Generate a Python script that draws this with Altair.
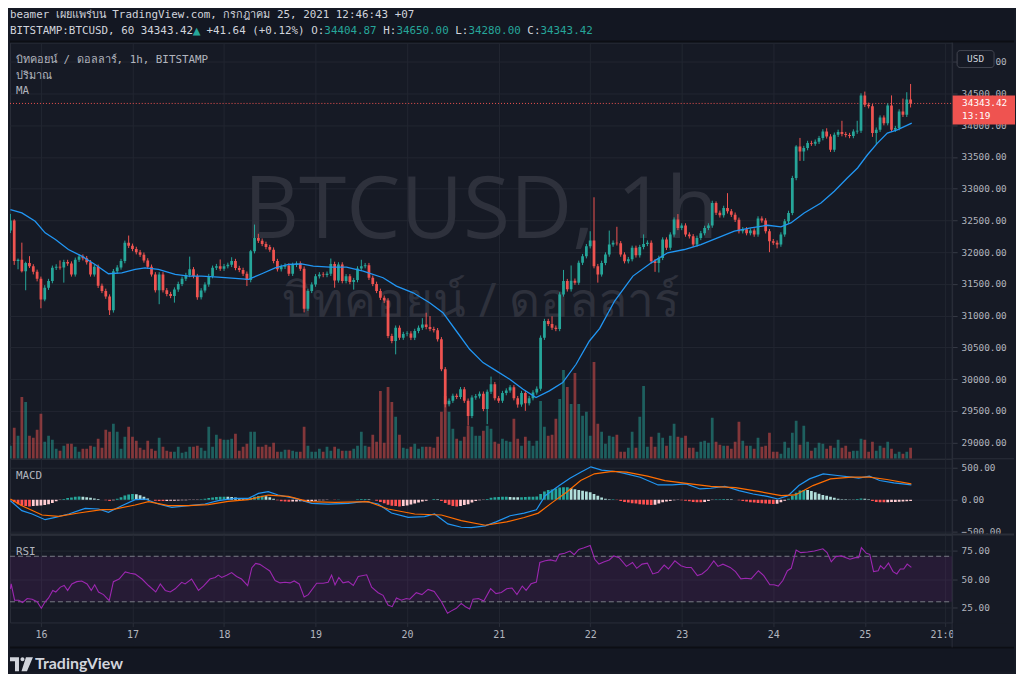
import altair as alt
import pandas as pd

# ---------------- data ----------------
# hourly candles, index 0 = Jul 15 16:00 ... 236 = Jul 25 12:00
closes = [
    32498, 31860, 31880, 31700, 31830, 31780, 31690, 31580, 31256, 31440,
    31545, 31754, 31770, 31760, 31845, 31820, 31650, 31880, 31930, 31905,
    31840, 31650, 31770, 31470, 31390, 31300, 31083, 31700, 31760, 31860,
    32147, 32100, 32050, 32000, 31960, 31870, 31770, 31650, 31400, 31650,
    31400, 31340, 31310, 31410, 31500, 31580, 31640, 31730, 31623, 31290,
    31398, 31490, 31623, 31754, 31780, 31740, 31780, 31800, 31860, 31750,
    31720, 31660, 31560, 32016, 32225, 32180, 32130, 32080, 32040, 31860,
    31730, 31770, 31790, 31660, 31800, 31820, 31740, 31110, 31390, 31490,
    31620, 31650, 31640, 31660, 31815, 31555, 31806, 31544, 31620, 31530,
    31560, 31743, 31780, 31795, 31597, 31500, 31390, 31282, 31240, 30680,
    30600, 30810, 30653, 30710, 30720, 30650, 30758, 30810, 30860, 30820,
    30790, 30770, 30627, 30155, 29605, 29660, 29736, 29720, 29840, 29660,
    29420, 29710, 29730, 29770, 29530, 29800, 29920, 29700, 29660, 29780,
    29820, 29870, 29700, 29600, 29780, 29620, 29700, 29790, 29850, 30653,
    30915, 30870, 30810, 30790, 31334, 31544, 31414, 31550, 31520, 31832,
    31937, 32094, 32185, 31780, 31650, 31830, 31963, 32120, 32150, 32140,
    31963, 31858, 31890, 32068, 31950, 32080, 32130, 32150, 31858, 31830,
    31910, 32199, 32068, 32278, 32513, 32382, 32420, 32278, 32250, 32120,
    32225, 32300, 32382, 32420, 32775, 32620, 32580, 32697, 32644, 32590,
    32510, 32330, 32360, 32300, 32340, 32278, 32530, 32500, 32330, 32173,
    32150, 32120, 32278, 32487, 32618, 33168, 33666, 33588, 33640, 33720,
    33710, 33740, 33797, 33902, 33824, 33614, 33850, 33895, 33860, 33845,
    33830, 33900, 33914, 34468, 34321, 34300, 33876, 33930, 34120, 34033,
    34311, 33930, 33955, 34216, 34164, 34404.87, 34343.42,
]
first_open = 32341

upper_wick = [
    105, 20, 20, 270, 20, 107, 30, 35, 35, 40,
    35, 35, 40, 100, 35, 35, 35, 35, 40, 35,
    35, 35, 35, 35, 35, 35, 35, 35, 35, 35,
    35, 115, 35, 35, 35, 35, 35, 35, 35, 35,
    35, 35, 35, 35, 35, 35, 35, 200, 35, 35,
    35, 35, 35, 35, 35, 105, 35, 35, 60, 35,
    35, 35, 35, 20, 210, 65, 35, 35, 35, 35,
    35, 35, 35, 35, 35, 35, 35, 35, 35, 35,
    35, 35, 35, 35, 85, 35, 35, 35, 35, 35,
    35, 35, 100, 35, 35, 35, 35, 35, 35, 35,
    35, 35, 35, 35, 35, 35, 35, 35, 100, 186,
    174, 35, 35, 35, 35, 35, 35, 35, 35, 35,
    35, 35, 35, 35, 35, 35, 120, 35, 35, 35,
    35, 35, 35, 35, 35, 35, 35, 35, 35, 35,
    35, 35, 120, 35, 35, 176, 35, 240, 35, 35,
    35, 35, 145, 680, 35, 35, 35, 220, 35, 250,
    35, 35, 35, 35, 35, 35, 150, 35, 35, 35,
    35, 35, 35, 35, 35, 87, 35, 35, 35, 35,
    35, 35, 35, 35, 35, 25, 35, 35, 233, 35,
    35, 35, 35, 35, 35, 35, 35, 35, 35, 35,
    35, 35, 35, 35, 35, 35, 20, 134, 35, 35,
    35, 35, 35, 35, 50, 35, 35, 35, 175, 35,
    35, 35, 156, 35, 62, 35, 35, 35, 35, 35,
    35, 159, 35, 35, 204, 115, 245.13,
]
lower_wick = [
    40, 60, 130, 20, 300, 30, 40, 40, 140, 30,
    35, 35, 35, 35, 240, 35, 35, 35, 35, 35,
    35, 35, 35, 35, 35, 35, 73, 35, 35, 35,
    35, 35, 35, 35, 35, 35, 35, 35, 35, 220,
    35, 35, 35, 105, 35, 35, 35, 35, 35, 40,
    35, 35, 35, 35, 35, 35, 35, 35, 35, 35,
    35, 35, 94, 35, 35, 35, 35, 35, 35, 35,
    35, 35, 35, 35, 35, 35, 35, 60, 35, 35,
    35, 35, 35, 35, 35, 115, 35, 35, 35, 35,
    120, 35, 35, 35, 35, 35, 35, 35, 40, 35,
    35, 210, 35, 35, 35, 35, 35, 35, 35, 35,
    35, 35, 35, 30, 50, 35, 35, 35, 35, 35,
    150, 35, 35, 35, 35, 240, 35, 35, 35, 35,
    35, 35, 35, 50, 35, 120, 35, 35, 35, 35,
    35, 35, 35, 35, 35, 35, 35, 35, 35, 35,
    35, 35, 35, 35, 130, 35, 35, 35, 35, 35,
    35, 35, 35, 35, 35, 35, 35, 35, 35, 140,
    150, 35, 35, 35, 35, 35, 35, 35, 35, 35,
    35, 35, 35, 35, 35, 35, 35, 35, 35, 35,
    35, 35, 35, 35, 35, 35, 35, 35, 35, 173,
    35, 60, 35, 35, 35, 35, 35, 150, 150, 35,
    35, 35, 35, 35, 35, 35, 35, 35, 35, 35,
    35, 35, 35, 35, 35, 35, 60, 176, 35, 35,
    35, 35, 35, 35, 35, 35, 63.42,
]
volume = [
    13, 31, 23, 62, 57, 23, 21, 29, 45, 17,
    23, 19, 10, 8, 13, 15, 15, 12, 7, 10,
    10, 13, 12, 20, 11, 29, 27, 35, 27, 10,
    22, 32, 22, 18, 11, 9, 18, 10, 8, 21,
    12, 8, 7, 7, 12, 6, 7, 12, 12, 13,
    11, 8, 32, 12, 24, 20, 19, 19, 20, 25,
    8, 12, 15, 27, 27, 12, 12, 14, 12, 16,
    7, 7, 9, 9, 8, 7, 7, 32, 13, 7,
    7, 10, 7, 12, 8, 12, 10, 8, 8, 8,
    10, 13, 27, 13, 12, 24, 17, 68, 16, 72,
    57, 42, 24, 11, 10, 12, 15, 10, 12, 12,
    12, 11, 22, 47, 63, 47, 30, 20, 18, 22,
    33, 32, 23, 23, 28, 33, 30, 17, 15, 20,
    18, 17, 40, 20, 13, 22, 18, 13, 18, 58,
    32, 23, 24, 40, 60, 89, 72, 55, 86, 55,
    43, 47, 23, 97, 35, 27, 15, 23, 22, 24,
    7, 7, 11, 27, 11, 42, 73, 12, 22, 12,
    26, 21, 13, 23, 35, 22, 21, 23, 11, 11,
    7, 17, 18, 16, 41, 17, 14, 13, 13, 10,
    17, 37, 18, 13, 13, 10, 21, 12, 13, 26,
    7, 7, 5, 17, 11, 26, 38, 14, 33, 17,
    8, 11, 16, 15, 10, 13, 11, 19, 11, 13,
    7, 8, 8, 20, 19, 7, 17, 8, 13, 11,
    17, 10, 5, 7, 5, 7, 11,
]
macd_hist = [
    -10, -40, -70, -95, -100, -105, -100, -95, -90, -85,
    -70, -50, -25, -5, 10, 25, 35, 45, 50, 48,
    40, 30, 20, 10, 0, -10, -20, -10, 15, 40,
    65, 80, 88, 85, 70, 45, 20, 0, -15, -20,
    -22, -20, -18, -15, -12, -10, -8, -5, -5, -3,
    5, 15, 25, 35, 42, 45, 47, 45, 42, 35,
    25, 18, 10, 25, 45, 58, 60, 55, 40, 15,
    -10, -25, -30, -32, -30, -28, -25, -30, -28, -22,
    -15, -10, -8, -5, 0, -3, 2, -2, 0, -2,
    0, 5, 10, 12, 8, 0, -15, -35, -55, -80,
    -95, -100, -105, -100, -90, -75, -60, -45, -30, -15,
    0, 10, 5, -20, -50, -80, -100, -105, -100, -85,
    -70, -45, -20, -10, -5, 10, 30, 40, 42, 45,
    46, 44, 40, 38, 40, 42, 45, 48, 50, 90,
    130, 150, 160, 175, 190, 195, 195, 180, 165, 150,
    140, 130, 115, 90, 60, 35, 15, 5, 5, -5,
    -20, -35, -45, -55, -60, -70, -75, -80, -84, -80,
    -60, -40, -30, -20, -10, -5, -10, -15, -25, -35,
    -40, -42, -35, -20, -5, 5, 8, 10, 8, 5,
    0, -10, -20, -30, -40, -45, -50, -55, -60, -65,
    -68, -65, -40, -15, 15, 60, 110, 145, 153, 150,
    135, 115, 95, 75, 60, 45, 30, 15, 8, 5,
    3, 2, 10, 18, 15, 5, -20, -35, -40, -42,
    -40, -38, -35, -32, -28, -25, -20,
]
# (candle index, value) points
ma_points = [
    (0, 32671), (3.0, 32618), (6.5, 32487), (9.1, 32304), (11.8, 32199), (15.2, 32042),
    (18.7, 31937), (22.2, 31806), (25.7, 31660), (29.2, 31675), (32.7, 31728), (35.3, 31754),
    (38.8, 31728), (43.2, 31649), (46.7, 31623), (50.1, 31623), (54.5, 31607), (58.9, 31586),
    (62.4, 31570), (65.9, 31660), (69.4, 31754), (72.9, 31806), (76.3, 31817), (79.4, 31780),
    (83.8, 31764), (88.1, 31764), (92.5, 31701), (97.7, 31597), (101.2, 31465), (105.6, 31360),
    (109.9, 31203), (113.4, 31046), (116.9, 30758), (120.4, 30470), (123.9, 30260), (127.4, 30129),
    (130.9, 29998), (134.4, 29841), (137.8, 29710), (141.3, 29815), (144.8, 29946), (148.3, 30234),
    (151.8, 30601), (154.5, 30800), (158.4, 31230), (163.2, 31623), (168.0, 31832), (172.3, 31990),
    (176.7, 32042), (181.0, 32120), (185.4, 32225), (189.8, 32330), (194.1, 32382), (198.5, 32424),
    (202.0, 32398), (204.6, 32461), (208.1, 32618), (212.5, 32775), (216.0, 32959), (219.4, 33168),
    (222.1, 33326), (224.7, 33535), (227.3, 33719), (229.9, 33876), (232.5, 33928), (236.3, 34033),
]
macd_points = [
    (0, -16), (3.0, -172), (5.7, -224), (9.1, -313), (11.8, -276), (15.3, -224), (19.6, -135),
    (23.1, -146), (25.7, -198), (29.2, -94), (32.7, 0), (35.3, 10), (38.8, -68), (42.3, -120),
    (46.7, -94), (51.0, -68), (54.5, -16), (58.9, 21), (62.4, 21), (65.0, 99), (67.6, 125),
    (70.2, 73), (74.6, 21), (79.0, -57), (83.3, -68), (88.6, -57), (92.9, -26), (96.4, -68),
    (99.9, -208), (104.3, -276), (108.6, -266), (111.2, -224), (114.7, -380), (118.2, -432),
    (120.8, -437), (124.5, -410), (127.3, -347), (131.0, -252), (134.7, -210), (137.9, -158),
    (140.2, 63), (143.9, 221), (146.7, 337), (149.5, 431), (152.2, 515), (155.0, 463),
    (158.7, 442), (161.5, 405), (165.1, 352), (169.8, 231), (173.5, 231), (177.1, 247),
    (180.8, 168), (183.6, 179), (187.3, 210), (191.0, 142), (194.7, 89), (198.4, 53),
    (201.2, 11), (203.9, 63), (206.7, 221), (209.5, 326), (213.1, 405), (216.8, 379),
    (220.5, 352), (222.4, 337), (225.2, 368), (227.9, 300), (231.6, 263), (236.2, 231),
]
signal_points = [
    (0, 10), (3.0, -94), (8.3, -240), (12.6, -260), (17.9, -208), (24.0, -156), (26.6, -156),
    (32.7, -83), (36.2, -31), (41.4, -94), (46.7, -94), (51.9, -78), (57.1, -26), (62.4, 0),
    (67.6, 73), (72.9, 52), (78.1, -31), (85.1, -42), (93.8, -31), (99.0, -146), (106.0, -224),
    (113.0, -240), (118.2, -328), (124.5, -400), (130.1, -347), (134.7, -279), (138.4, -210),
    (142.1, -42), (145.8, 116), (149.5, 300), (153.1, 405), (157.8, 442), (161.5, 431),
    (167.0, 368), (171.6, 300), (176.2, 263), (183.6, 210), (190.1, 189), (196.5, 126),
    (202.1, 63), (205.8, 74), (210.4, 221), (215.0, 326), (220.5, 352), (225.2, 352),
    (229.8, 316), (236.2, 247),
]
rsi_points = [
    (0, 41.4), (0.2, 45.7), (1.1, 31.4), (2.2, 31.4), (3.2, 29.4), (4.4, 32.9), (5.7, 32.3),
    (7.0, 30.0), (8.1, 24.3), (9.1, 30.0), (10.0, 33.4), (11.1, 40.0), (11.9, 38.6), (13.1, 42.9),
    (14.1, 44.3), (15.0, 40.0), (16.1, 45.7), (17.4, 47.7), (18.7, 48.3), (20.1, 45.7), (21.2, 40.0),
    (22.1, 44.9), (23.1, 38.6), (24.4, 36.3), (25.9, 31.1), (27.0, 47.7), (28.5, 50.0), (30.1, 56.3),
    (31.4, 55.1), (32.7, 54.3), (34.5, 50.0), (36.2, 44.3), (38.1, 38.6), (39.3, 45.7), (40.6, 40.0),
    (41.9, 38.6), (43.2, 41.4), (44.9, 47.1), (45.8, 45.7), (47.5, 50.0), (49.3, 40.0), (50.6, 43.7),
    (52.3, 50.0), (53.7, 51.4), (54.5, 53.4), (55.4, 51.4), (56.7, 53.4), (58.0, 55.7), (59.3, 52.3),
    (60.6, 50.0), (62.2, 44.3), (63.3, 60.0), (64.3, 63.7), (65.4, 62.9), (66.7, 60.0), (68.0, 57.1),
    (69.4, 48.6), (70.7, 46.6), (72.0, 47.1), (73.3, 46.6), (74.4, 48.3), (75.7, 45.7), (77.0, 34.3),
    (78.1, 36.3), (80.3, 46.3), (82.0, 46.3), (83.3, 47.1), (84.2, 53.4), (85.1, 44.9), (86.1, 51.4),
    (87.2, 46.6), (88.6, 47.7), (89.9, 44.3), (91.2, 52.3), (93.4, 53.7), (94.7, 42.9), (96.4, 38.0),
    (97.7, 35.7), (99.0, 27.1), (100.1, 25.7), (101.2, 33.4), (102.5, 31.4), (103.8, 32.9),
    (104.7, 32.3), (106.4, 38.0), (107.9, 36.3), (109.5, 40.9), (111.1, 39.1), (113.0, 30.0),
    (114.6, 20.0), (115.6, 22.0), (116.9, 24.3), (118.2, 28.6), (119.3, 25.7), (120.4, 23.7),
    (121.3, 32.3), (122.7, 32.9), (124.1, 30.6), (125.9, 41.5), (127.3, 37.2), (128.7, 38.1),
    (130.1, 41.5), (131.5, 42.1), (132.8, 36.3), (134.2, 43.8), (135.2, 40.1), (136.5, 45.8),
    (137.9, 47.3), (138.8, 64.5), (140.2, 66.0), (141.6, 66.8), (143.0, 65.7), (143.9, 71.7),
    (145.3, 72.6), (146.7, 74.6), (147.8, 71.4), (149.0, 76.0), (150.4, 77.5), (152.0, 79.5),
    (153.2, 67.4), (154.3, 63.1), (155.7, 65.1), (157.0, 66.8), (158.2, 70.3), (159.6, 68.8),
    (161.5, 61.1), (163.1, 64.5), (164.2, 59.4), (165.6, 63.1), (167.0, 64.0), (168.4, 54.5),
    (169.8, 55.9), (171.4, 62.2), (172.5, 58.8), (174.2, 66.0), (175.8, 61.7), (177.2, 60.2),
    (178.5, 60.2), (180.1, 53.0), (181.3, 54.5), (182.7, 58.2), (184.4, 66.0), (185.5, 61.1),
    (186.8, 63.1), (188.7, 60.2), (190.1, 56.5), (191.5, 50.1), (192.8, 50.7), (194.2, 50.1),
    (196.1, 57.3), (197.5, 53.0), (199.1, 45.0), (200.2, 45.0), (201.3, 43.8), (202.5, 48.7),
    (203.7, 57.3), (204.7, 59.4), (206.0, 75.5), (207.2, 73.2), (209.0, 73.7), (210.8, 74.6),
    (213.0, 76.6), (214.1, 73.2), (215.2, 65.1), (216.4, 69.7), (217.8, 70.3), (220.1, 67.4),
    (221.5, 68.8), (222.4, 68.8), (223.1, 77.5), (224.4, 72.6), (225.3, 71.7), (226.3, 56.5),
    (227.5, 57.3), (228.1, 61.7), (229.0, 58.8), (230.2, 64.0), (231.4, 56.5), (232.4, 54.5),
    (233.3, 58.8), (234.2, 58.8), (235.1, 63.1), (236.2, 60.2),
]
day_pos = [8, 32, 56, 80, 104, 128, 152, 176, 200, 224, 245]
day_labels = ["16", "17", "18", "19", "20", "21", "22", "23", "24", "25", "21:00"]
price_ticks = [29000, 29500, 30000, 30500, 31000, 31500, 32000, 32500, 33000, 33500, 34000, 34500, 35000]
macd_ticks = [500, 0, -500]
rsi_ticks = [75, 50, 25]
rsi_levels = [70, 30]

header1 = "beamer เผยแพร่บน TradingView.com, กรกฎาคม 25, 2021 12:46:43 +07"
header2 = [("BITSTAMP:BTCUSD, 60 34343.42", "w"), ("▲", "g"), (" +41.64 (+0.12%) ", "w"),
           ("O:", "w"), ("34404.87", "g"), (" H:", "w"), ("34650.00", "g"),
           (" L:", "w"), ("34280.00", "g"), (" C:", "w"), ("34343.42", "g")]
legend_lines = ["บิทคอยน์ / ดอลลาร์, 1h, BITSTAMP", "ปริมาณ", "MA"]
watermark_1 = "BTCUSD, 1h"
watermark_2 = "บิทคอยน์ / ดอลลาร์"
countdown = "13:19"

# ---------------- tables ----------------
rows = []
prev_c = first_open
prev_hist = macd_hist[0]
for i, (c, u, d, v, hv) in enumerate(zip(closes, upper_wick, lower_wick, volume, macd_hist)):
    o = prev_c
    if hv >= 0:
        hc = "pu" if hv >= prev_hist else "pd"
    else:
        hc = "nd" if hv < prev_hist else "nu"
    rows.append(dict(h=i, xa=i - 0.36, xb=i + 0.36, o=o, c=c,
                     hi=max(o, c) + u, lo=min(o, c) - d, vol=v,
                     dir="up" if c >= o else "down", hist=hv, hc=hc))
    prev_c = c
    prev_hist = hv
candles = pd.DataFrame(rows)
last = candles.tail(1)
ma_df = pd.DataFrame(ma_points, columns=["h", "v"])
macd_df = pd.DataFrame(macd_points, columns=["h", "v"])
sig_df = pd.DataFrame(signal_points, columns=["h", "v"])
rsi_df = pd.DataFrame(rsi_points, columns=["h", "v"])
band_df = pd.DataFrame({"top": [rsi_levels[0]], "bot": [rsi_levels[1]]})
lvl_df = pd.DataFrame({"lvl": rsi_levels})
one = pd.DataFrame({"k": [0]})

# ---------------- style ----------------
W = 944
H_PRICE, H_MACD, H_RSI = 417, 76, 88
MONO = "DejaVu Sans Mono"
FS = 9.4      # axis / price-scale text
FSH = 10.9    # header & legend text
BG = "#161a25"
OUTER = "#131722"
GRID = "#222631"
SEP = "#2a2e39"
TXT = "#d1d4dc"
SUB = "#b2b5be"
UP = "#26a69a"
DN = "#ef5350"
RIGHT = 1006

xs = alt.Scale(domain=[-0.11, 246.89], nice=False, zero=False)
ys = alt.Scale(domain=[28745, 35302], nice=False, zero=False)
ms = alt.Scale(domain=[-547, 641], nice=False, zero=False)
rs = alt.Scale(domain=[11.84, 89.04], nice=False, zero=False)
dir_scale = alt.Scale(domain=["up", "down"], range=[UP, DN])
hist_scale = alt.Scale(domain=["pu", "pd", "nd", "nu"], range=["#26a69a", "#b2dfdb", "#ff5252", "#ffcdd2"])

x_grid_axis = alt.Axis(values=day_pos, labels=False, ticks=False, domain=False, grid=True,
                       gridColor=GRID, title=None)
expr = "''"
for p, l in reversed(list(zip(day_pos, day_labels))):
    expr = f"(datum.value == {p} ? '{l}' : {expr})"
x_label_axis = alt.Axis(values=day_pos, labelExpr=expr, grid=True, gridColor=GRID, ticks=True,
                        tickSize=4, tickColor=SEP, domain=False, labelFlush=False, labelPadding=3,
                        labelColor=SUB, labelFont=MONO, labelFontSize=FS + 0.6, labelOverlap=False,
                        title=None)


def y_axis(vals):
    return alt.Axis(orient="right", values=vals, format=".2f", grid=True, gridColor=GRID,
                    tickSize=5, tickColor="#363a45", domain=False, labelPadding=4,
                    labelColor=SUB, labelFont=MONO, labelFontSize=FS, labelOverlap=False,
                    title=None)


y_price_axis = y_axis(price_ticks)
y_macd_axis = y_axis(macd_ticks)
y_rsi_axis = y_axis(rsi_ticks)


def ptext(text, x, y, color=TXT, size=FSH, align="left", baseline="middle", font=MONO, weight="normal"):
    return alt.Chart(one).mark_text(text=text, align=align, baseline=baseline, font=font,
                                    fontSize=size, color=color, fontWeight=weight).encode(
        x=alt.value(x), y=alt.value(y))


def prect(x, x2, y, y2, fill, **kw):
    return alt.Chart(one).mark_rect(color=fill, **kw).encode(
        x=alt.value(x), x2=alt.value(x2), y=alt.value(y), y2=alt.value(y2))


def prule(x, x2, y, y2, color, width=1):
    return alt.Chart(one).mark_rule(color=color, strokeWidth=width).encode(
        x=alt.value(x), x2=alt.value(x2), y=alt.value(y), y2=alt.value(y2))


dir_color = alt.Color("dir:N", scale=dir_scale, legend=None)

# ---------------- price pane ----------------
watermark = alt.layer(
    ptext(watermark_1, 472, 196, color="#2e313c", size=86, align="center", baseline="alphabetic",
          font="Open Sans"),
    ptext(watermark_2, 472, 275, color="#2e313c", size=48, align="center", baseline="alphabetic",
          font="Noto Sans"),
)

vol_layer = alt.Chart(candles).mark_rect(clip=True, opacity=0.5).encode(
    x=alt.X("xa:Q", scale=xs, axis=x_grid_axis), x2="xb:Q",
    y=alt.Y("vol:Q", scale=alt.Scale(domain=[0, H_PRICE], nice=False), axis=None),
    y2=alt.datum(0), color=dir_color)

last_line = alt.Chart(last).mark_rule(color=DN, strokeDash=[1, 2], strokeWidth=1).encode(
    x=alt.value(0), x2=alt.value(W), y=alt.Y("c:Q", scale=ys, axis=y_price_axis))
wicks = alt.Chart(candles).mark_rule(clip=True, strokeWidth=1).encode(
    x=alt.X("h:Q", scale=xs, axis=x_grid_axis),
    y=alt.Y("lo:Q", scale=ys, axis=y_price_axis), y2="hi:Q", color=dir_color)
bodies = alt.Chart(candles).mark_rect(clip=True).encode(
    x=alt.X("xa:Q", scale=xs, axis=x_grid_axis), x2="xb:Q",
    y=alt.Y("o:Q", scale=ys, axis=y_price_axis), y2="c:Q", color=dir_color)
ma_line = alt.Chart(ma_df).mark_line(color="#2196f3", strokeWidth=1.3, clip=True).encode(
    x=alt.X("h:Q", scale=xs, axis=x_grid_axis), y=alt.Y("v:Q", scale=ys, axis=y_price_axis))
# price label box: a filled rectangular symbol (63 x 29 px) anchored on the last close
box_shape = "M-1,-0.4603H1V0.4603H-1Z"
last_box = alt.Chart(last).mark_point(shape=box_shape, size=3969, filled=True, opacity=1,
                                      color=DN, strokeWidth=0, yOffset=6.5).encode(
    x=alt.value(975.5), y=alt.Y("c:Q", scale=ys, axis=y_price_axis))
last_txt = alt.Chart(last).mark_text(align="left", baseline="middle", font=MONO, fontSize=FS,
                                     color="#ffffff").encode(
    x=alt.value(W + 10), y=alt.Y("c:Q", scale=ys, axis=y_price_axis),
    text=alt.Text("c:Q", format=".2f"))
cd_txt = alt.Chart(last).mark_text(text=countdown, align="left", baseline="middle", font=MONO,
                                   fontSize=FS, color="#ffffff", dy=13).encode(
    x=alt.value(W + 10), y=alt.Y("c:Q", scale=ys, axis=y_price_axis))

# header line 2, monospace segments placed by character count
cw = 0.602 * FSH
pos = 0
h2_layers = []
for seg, col in header2:
    lead = len(seg) - len(seg.lstrip(" "))
    txt = seg.strip(" ")
    if txt:
        if txt == "▲":
            h2_layers.append(ptext(txt, (pos + lead) * cw + cw / 2, -12, color=UP, size=13,
                                   align="center"))
        else:
            h2_layers.append(ptext(txt, (pos + lead) * cw, -12, color=(UP if col == "g" else TXT)))
    pos += len(seg)

logo_shape = ("M-1,-0.609 H-0.217 V0.609 H-0.565 V-0.261 H-1 Z "
              "M-0.087,-0.435 A0.174,0.174 0 1,0 0.261,-0.435 A0.174,0.174 0 1,0 -0.087,-0.435 Z "
              "M0.391,-0.609 L1,-0.609 L0.478,0.609 L0,0.609 Z")
logo = alt.Chart(one).mark_point(shape=logo_shape, size=529, filled=True, opacity=1,
                                 color=TXT, strokeWidth=0).encode(x=alt.value(11.5), y=alt.value(623))

overlay = alt.layer(
    prect(0, RIGHT, -33, -1, OUTER),
    prule(0, RIGHT, -1, -1, "#0c0e14", 2),
    prect(0, RIGHT, 606, 630, OUTER),
    prule(0, RIGHT, 606, 606, "#0c0e14", 2),
    prule(W, W, 0, 606, SEP, 1),
    ptext(header1, 0, -27.5),
    *h2_layers,
    ptext(legend_lines[0], 6, 17, color=SUB),
    ptext(legend_lines[1], 6, 33, color=SUB),
    ptext(legend_lines[2], 6, 49, color=SUB),
    logo,
    ptext("TradingView", 25, 623, color=TXT, size=16, font="Lato", weight="bold"),
    prect(949, 986, 8, 25, BG, stroke="#434651", strokeWidth=1, cornerRadius=3),
    ptext("USD", 967.5, 16.5, color=TXT, size=FS, align="center"),
)

price_layer = alt.layer(last_line, wicks, bodies, ma_line, last_box, last_txt, cd_txt)
price_pane = alt.layer(watermark, vol_layer, price_layer, overlay).resolve_scale(
    y="independent").properties(width=W, height=H_PRICE)

# ---------------- MACD pane ----------------
hist = alt.Chart(candles).mark_rect(clip=True).encode(
    x=alt.X("xa:Q", scale=xs, axis=x_grid_axis), x2="xb:Q",
    y=alt.Y("hist:Q", scale=ms, axis=y_macd_axis), y2=alt.datum(0),
    color=alt.Color("hc:N", scale=hist_scale, legend=None))
macd_line = alt.Chart(macd_df).mark_line(color="#2196f3", strokeWidth=1.2, clip=True).encode(
    x=alt.X("h:Q", scale=xs, axis=x_grid_axis), y=alt.Y("v:Q", scale=ms, axis=y_macd_axis))
sig_line = alt.Chart(sig_df).mark_line(color="#ff6d00", strokeWidth=1.2, clip=True).encode(
    x=alt.X("h:Q", scale=xs, axis=x_grid_axis), y=alt.Y("v:Q", scale=ms, axis=y_macd_axis))
macd_pane = alt.layer(
    hist, macd_line, sig_line,
    prule(W, RIGHT, 0, 0, SEP, 1),
    ptext("MACD", 6, 17, color=SUB),
).properties(width=W, height=H_MACD)

# ---------------- RSI pane ----------------
band = alt.Chart(band_df).mark_rect(color="#9c27b0", opacity=0.12).encode(
    x=alt.value(0), x2=alt.value(W),
    y=alt.Y("top:Q", scale=rs, axis=y_rsi_axis), y2="bot:Q")
levels = alt.Chart(lvl_df).mark_rule(color="#787b86", strokeDash=[5, 3], strokeWidth=1).encode(
    x=alt.value(0), x2=alt.value(W), y=alt.Y("lvl:Q", scale=rs, axis=y_rsi_axis))
rsi_line = alt.Chart(rsi_df).mark_line(color="#9c27b0", strokeWidth=1.1, clip=True).encode(
    x=alt.X("h:Q", scale=xs, axis=x_label_axis), y=alt.Y("v:Q", scale=rs, axis=y_rsi_axis))
rsi_pane = alt.layer(
    band, levels, rsi_line,
    prule(0, RIGHT, 0, 0, SEP, 2),
    prect(W + 1, RIGHT, H_RSI + 1, H_RSI + 24, BG),
    ptext("RSI", 6, 17, color=SUB),
).properties(width=W, height=H_RSI)

chart = alt.vconcat(price_pane, macd_pane, rsi_pane, spacing=0, bounds="flush").resolve_scale(
    color="independent"
).properties(
    padding=0
).configure(background=BG).configure_view(stroke=SEP, strokeWidth=1)

chart.save("out.html", embed_options={"renderer": "svg", "actions": False})
